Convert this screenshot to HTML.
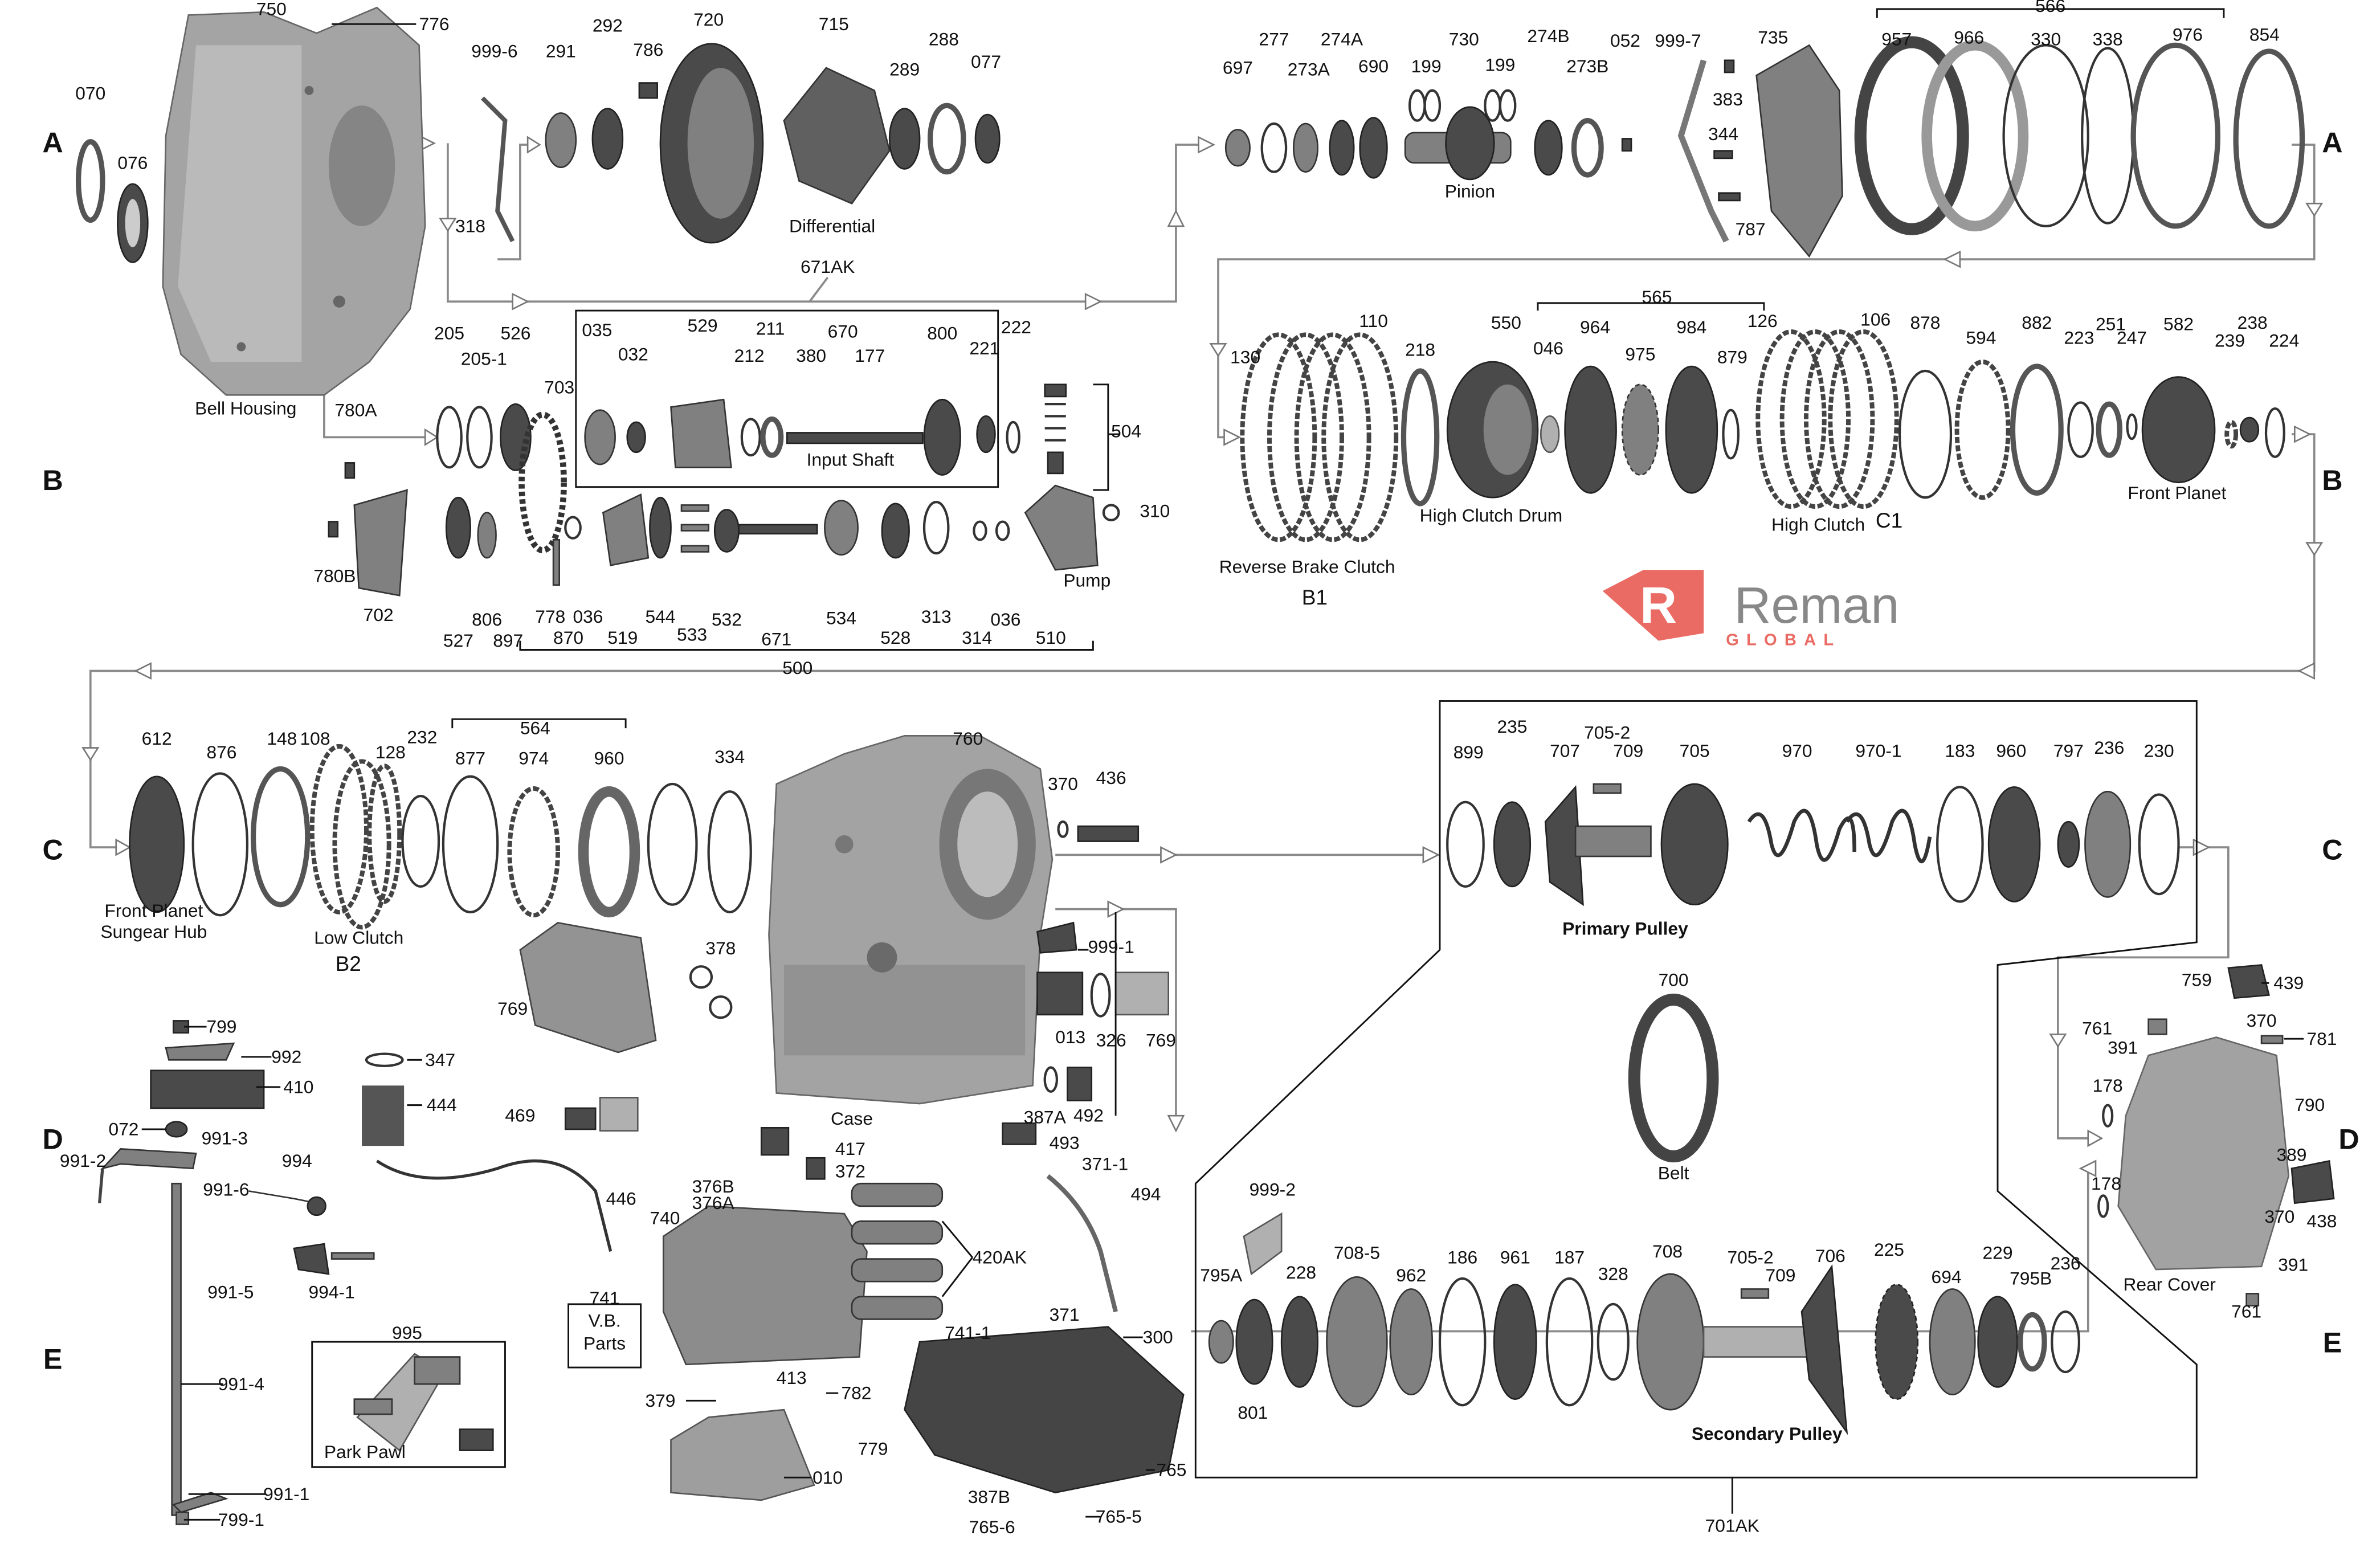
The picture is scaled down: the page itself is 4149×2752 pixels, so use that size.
<!DOCTYPE html>
<html><head><meta charset="utf-8"><style>
html,body{margin:0;padding:0;background:#fff;}
svg{display:block;}
text{font-family:"Liberation Sans",Arial,sans-serif;font-size:12px;fill:#111;text-anchor:middle;}
.big{font-size:19px;font-weight:bold;}
.b{font-weight:bold;}
.r{fill:none;stroke:#333;stroke-width:1.6;}
.rt{fill:none;stroke:#555;stroke-width:3.5;}
.g{fill:#4a4a4a;stroke:#222;stroke-width:1;}
.gm{fill:#808080;stroke:#333;stroke-width:1;}
.gl{fill:#b0b0b0;stroke:#555;stroke-width:1;}
.h{fill:#fff;stroke:#333;stroke-width:1;}
.c{fill:none;stroke:#8a8a8a;stroke-width:1.4;}
.k{fill:none;stroke:#111;stroke-width:1.1;}
.a{fill:#fff;stroke:#777;stroke-width:1;}
</style></head><body>
<svg width="4149" height="2752" viewBox="0 0 1568 1040" preserveAspectRatio="none" xmlns="http://www.w3.org/2000/svg">
<rect width="1568" height="1040" fill="#fff"/>

<g><text x="35" y="101" class="big">A</text><text x="35" y="325" class="big">B</text><text x="35" y="570" class="big">C</text><text x="35" y="762" class="big">D</text><text x="35" y="908" class="big">E</text>
<text x="1547" y="101" class="big">A</text><text x="1547" y="325" class="big">B</text><text x="1547" y="570" class="big">C</text><text x="1558" y="762" class="big">D</text><text x="1547" y="897" class="big">E</text></g>

<!-- connectors -->
<polyline class="c" points="215,95 283,95"/><polygon class="a" points="278,90 288,95 278,100"/>
<polyline class="c" points="297,95 297,200 780,200 780,96 800,96"/><polygon class="a" points="795,91 805,96 795,101"/>
<polygon class="a" points="292,145 297,153 302,145"/><polygon class="a" points="340,195 350,200 340,205"/><polygon class="a" points="720,195 730,200 720,205"/><polygon class="a" points="775,150 780,140 785,150"/>
<polyline class="c" points="330,172 345,172 345,96 355,96"/><polygon class="a" points="350,91 358,96 350,101"/>
<line class="c" x1="549" y1="184" x2="537" y2="200"/>
<polyline class="c" points="1520,96 1535,96 1535,172 808,172 808,290 820,290"/><polygon class="a" points="1530,135 1535,143 1540,135"/><polygon class="a" points="1300,167 1290,172 1300,177"/><polygon class="a" points="803,228 808,236 813,228"/><polygon class="a" points="812,285 822,290 812,295"/>
<polyline class="c" points="215,230 215,290 290,290"/><polygon class="a" points="210,236 215,244 220,236"/><polygon class="a" points="282,285 290,290 282,295"/>
<polyline class="c" points="1520,288 1535,288 1535,445 60,445 60,562 85,562"/><polygon class="a" points="1522,283 1532,288 1522,293"/><polygon class="a" points="1530,360 1535,368 1540,360"/><polygon class="a" points="1535,440 1525,445 1535,450"/><polygon class="a" points="100,440 90,445 100,450"/><polygon class="a" points="55,496 60,504 65,496"/><polygon class="a" points="77,557 86,562 77,567"/>
<polyline class="c" points="700,567 950,567"/><polygon class="a" points="944,562 954,567 944,572"/><polygon class="a" points="770,562 780,567 770,572"/>
<polyline class="c" points="700,603 780,603 780,745"/><polygon class="a" points="735,598 745,603 735,608"/><polygon class="a" points="775,740 780,750 785,740"/>
<polyline class="c" points="1445,562 1478,562 1478,635 1365,635 1365,755 1392,755"/><polygon class="a" points="1455,557 1465,562 1455,567"/><polygon class="a" points="1360,686 1365,694 1370,686"/><polygon class="a" points="1385,750 1394,755 1385,760"/>
<polyline class="c" points="1380,775 1385,775 1385,883 790,883"/><polygon class="a" points="1380,775 1390,770 1390,780"/>

<!-- outline boxes -->
<rect x="382" y="206" width="280" height="117" class="k"/>
<polyline class="k" points="955,630 955,465 1457,465 1457,625 1325,640 1325,790 1457,905 1457,980 793,980 793,785 955,630"/>
<path class="k" d="M300,483 v-6 h115 v6"/>
<path class="k" d="M1245,12 v-6 h230 v6"/>
<path class="k" d="M1020,206 v-5 h150 v5"/>
<path class="k" d="M345,425 v6 h380 v-6"/>
<path class="k" d="M725,255 h10 v70 h-10 M735,288 h8"/>
<rect x="377" y="865" width="48" height="42" class="k"/>
<rect x="207" y="890" width="128" height="83" class="k"/>
<line class="k" x1="1149" y1="980" x2="1149" y2="1004"/>

<!-- Bell housing -->
<path fill="#a4a4a4" stroke="#666" d="M125,10 L175,8 L210,22 L250,5 L278,30 L282,150 L272,205 L245,240 L215,262 L150,262 L120,235 L108,190 L110,90 Z"/>
<path fill="#c9c9c9" d="M130,30 L200,30 L200,240 L140,240 L118,190 Z" opacity=".6"/>
<ellipse cx="240" cy="110" rx="22" ry="40" fill="#858585"/>
<circle cx="205" cy="60" r="3" fill="#666"/><circle cx="225" cy="200" r="4" fill="#666"/><circle cx="160" cy="230" r="3" fill="#666"/>
<!-- Case -->
<path fill="#a3a3a3" stroke="#666" d="M515,520 L560,500 L600,488 L650,488 L690,510 L698,570 L690,620 L685,720 L610,732 L515,725 L510,620 Z"/>
<ellipse cx="655" cy="560" rx="32" ry="50" fill="#777"/><ellipse cx="655" cy="560" rx="20" ry="35" fill="#bcbcbc"/>
<rect x="520" y="640" width="160" height="60" fill="#929292"/>
<circle cx="585" cy="635" r="10" fill="#6a6a6a"/><circle cx="560" cy="560" r="6" fill="#777"/>
<!-- Rear cover -->
<path fill="#a2a2a2" stroke="#666" d="M1425,700 L1470,688 L1510,700 L1518,780 L1500,840 L1430,842 L1405,800 L1410,740 Z"/>
<!-- valve body -->
<path fill="#8c8c8c" stroke="#444" d="M440,820 L470,800 L560,805 L575,830 L570,900 L455,905 L440,870 Z"/>
<rect x="565" y="785" width="60" height="15" rx="6" class="gm"/><rect x="565" y="810" width="60" height="15" rx="6" class="gm"/><rect x="565" y="835" width="60" height="15" rx="6" class="gm"/><rect x="565" y="860" width="60" height="15" rx="6" class="gm"/>
<rect x="505" y="748" width="18" height="18" class="g"/><rect x="535" y="768" width="12" height="14" class="g"/>
<!-- pan -->
<path fill="#454545" stroke="#222" d="M610,890 L735,880 L785,925 L775,975 L700,990 L620,965 L600,935 Z"/>
<path fill="#9e9e9e" stroke="#555" d="M445,955 L470,940 L520,935 L540,985 L505,995 L445,990 Z"/>
<!-- filter 769 -->
<path fill="#939393" stroke="#444" d="M345,630 L370,612 L425,622 L435,690 L410,698 L355,680 Z"/>
<!-- shaft 991-4 -->
<rect x="114" y="785" width="6" height="220" class="gm"/>
<rect x="100" y="710" width="75" height="25" class="g"/>
<rect x="115" y="677" width="10" height="8" class="g"/><path class="gm" d="M110,695 L155,692 L150,703 L112,703 Z"/>
<ellipse cx="117" cy="749" rx="7" ry="5" class="g"/>
<path class="gm" d="M68,775 L80,762 L130,765 L128,775 L80,772 Z"/><line x1="68" y1="775" x2="66" y2="798" stroke="#444" stroke-width="2"/>
<path class="gm" d="M165,790 L195,795 L210,798" stroke="#444" stroke-width="3"/><circle cx="210" cy="800" r="6" class="g"/>
<path class="g" d="M195,828 L215,825 L218,845 L198,842 Z"/><rect x="220" y="831" width="28" height="4" class="gm"/>
<path class="gm" d="M115,998 L140,990 L150,994 L120,1003 Z"/>
<rect x="117" y="1003" width="8" height="8" class="gm"/>
<path class="gl" d="M237,940 L275,898 L295,910 L265,962 Z"/>
<rect x="275" y="900" width="30" height="18" class="gm"/><rect x="305" y="948" width="22" height="14" class="g"/><rect x="235" y="928" width="25" height="10" class="gm"/>
<path fill="#555" d="M240,720 h28 v40 h-28 z"/><ellipse cx="255" cy="703" rx="12" ry="4" class="r"/>
<path class="c" style="stroke:#333;stroke-width:2" d="M250,770 Q280,790 330,775 Q370,760 395,790 L405,830"/>
<rect x="375" y="735" width="20" height="14" class="g"/><rect x="398" y="728" width="25" height="22" class="gl"/>
<path class="c" style="stroke:#666;stroke-width:3" d="M695,780 Q720,800 730,830 L740,870"/>
<rect x="665" y="745" width="22" height="14" class="g"/>

<!-- Row A parts -->
<ellipse cx="60" cy="120" rx="8" ry="26" class="rt"/>
<ellipse cx="88" cy="148" rx="10" ry="26" class="g"/><ellipse cx="88" cy="148" rx="5" ry="16" fill="#ccc"/>
<ellipse cx="372" cy="93" rx="10" ry="18" class="gm"/><ellipse cx="403" cy="92" rx="10" ry="20" class="g"/>
<rect x="424" y="55" width="12" height="10" class="g"/>
<ellipse cx="472" cy="95" rx="34" ry="66" class="g"/><ellipse cx="478" cy="95" rx="22" ry="50" fill="#808080"/>
<path fill="#606060" stroke="#333" d="M520,80 L548,45 L580,60 L590,100 L565,135 L530,120 Z"/>
<ellipse cx="600" cy="92" rx="10" ry="20" class="g"/><ellipse cx="628" cy="92" rx="11" ry="22" class="rt"/><ellipse cx="655" cy="92" rx="8" ry="16" class="g"/>
<path class="c" style="stroke:#555;stroke-width:3" d="M320,65 L335,80 L330,140 L340,160"/>
<ellipse cx="821" cy="98" rx="8" ry="12" class="gm"/><ellipse cx="845" cy="98" rx="8" ry="16" class="r"/><ellipse cx="866" cy="98" rx="8" ry="16" class="gm"/><ellipse cx="890" cy="98" rx="8" ry="18" class="g"/><ellipse cx="911" cy="98" rx="9" ry="20" class="g"/>
<ellipse cx="940" cy="70" rx="5" ry="10" class="r"/><ellipse cx="950" cy="70" rx="5" ry="10" class="r"/><ellipse cx="990" cy="70" rx="5" ry="10" class="r"/><ellipse cx="1000" cy="70" rx="5" ry="10" class="r"/>
<rect x="932" y="88" width="70" height="20" rx="6" class="gm"/><ellipse cx="975" cy="95" rx="16" ry="24" class="g"/>
<ellipse cx="1027" cy="98" rx="9" ry="18" class="g"/><ellipse cx="1053" cy="98" rx="9" ry="18" class="rt"/><rect x="1076" y="92" width="6" height="8" class="g"/>
<path class="c" style="stroke:#777;stroke-width:4" d="M1130,40 L1115,90 L1135,140 L1145,160"/>
<rect x="1144" y="40" width="6" height="8" class="g"/><rect x="1137" y="100" width="12" height="5" class="g"/><rect x="1140" y="128" width="14" height="5" class="g"/>
<path class="gm" d="M1165,50 L1200,30 L1220,60 L1222,130 L1200,170 L1175,140 Z"/>
<ellipse cx="1268" cy="90" rx="34" ry="62" class="rt" style="stroke:#444;stroke-width:8"/>
<ellipse cx="1310" cy="90" rx="32" ry="60" class="rt" style="stroke:#999;stroke-width:7"/>
<ellipse cx="1357" cy="90" rx="28" ry="60" class="r"/><ellipse cx="1398" cy="90" rx="17" ry="58" class="r"/><ellipse cx="1443" cy="90" rx="28" ry="60" class="rt"/><ellipse cx="1505" cy="92" rx="22" ry="58" class="rt"/>

<!-- Row B parts -->
<ellipse cx="298" cy="290" rx="8" ry="20" class="r"/><ellipse cx="318" cy="290" rx="8" ry="20" class="r"/><ellipse cx="342" cy="290" rx="10" ry="22" class="g"/>
<ellipse cx="360" cy="320" rx="14" ry="45" class="r" style="stroke-dasharray:3 2;stroke-width:4"/>
<ellipse cx="398" cy="290" rx="10" ry="18" class="gm"/><ellipse cx="422" cy="290" rx="6" ry="10" class="g"/>
<path class="gm" d="M445,270 L480,265 L485,310 L448,310 Z"/><ellipse cx="498" cy="290" rx="6" ry="12" class="r"/><ellipse cx="512" cy="290" rx="6" ry="12" class="rt"/>
<rect x="522" y="287" width="90" height="7" class="g"/><ellipse cx="625" cy="290" rx="12" ry="25" class="g"/><ellipse cx="654" cy="288" rx="6" ry="12" class="g"/><ellipse cx="672" cy="290" rx="4" ry="10" class="r"/>
<rect x="693" y="255" width="14" height="8" class="g"/><path class="r" d="M693,268 h14 M693,276 h14 M693,284 h14 M693,292 h14"/><rect x="695" y="300" width="10" height="14" class="g"/>
<path class="gm" d="M680,340 L700,322 L725,330 L728,375 L700,378 Z"/>
<ellipse cx="737" cy="340" rx="5" ry="5" class="r"/>
<path class="gm" d="M235,335 L270,325 L265,395 L238,390 Z"/>
<rect x="229" y="307" width="6" height="10" class="g"/><rect x="218" y="346" width="6" height="10" class="g"/>
<ellipse cx="304" cy="350" rx="8" ry="20" class="g"/><ellipse cx="323" cy="355" rx="6" ry="15" class="gm"/>
<ellipse cx="380" cy="350" rx="5" ry="7" class="r"/><rect x="367" y="358" width="4" height="30" class="gm"/>
<path class="gm" d="M400,340 L425,328 L430,370 L405,375 Z"/><ellipse cx="438" cy="350" rx="7" ry="20" class="g"/><ellipse cx="482" cy="352" rx="8" ry="14" class="g"/><rect x="490" y="348" width="52" height="6" class="g"/>
<rect x="452" y="335" width="18" height="4" class="gm"/><rect x="452" y="348" width="18" height="4" class="gm"/><rect x="452" y="362" width="18" height="4" class="gm"/>
<ellipse cx="558" cy="350" rx="11" ry="18" class="gm"/><ellipse cx="594" cy="352" rx="9" ry="18" class="g"/><ellipse cx="621" cy="350" rx="8" ry="17" class="r"/>
<ellipse cx="650" cy="352" rx="4" ry="6" class="r"/><ellipse cx="665" cy="352" rx="4" ry="6" class="r"/>
<g class="r" style="stroke:#444;stroke-width:3;stroke-dasharray:4 1.5">
<ellipse cx="848" cy="290" rx="24" ry="68"/><ellipse cx="866" cy="290" rx="24" ry="68"/><ellipse cx="884" cy="290" rx="24" ry="68"/><ellipse cx="902" cy="290" rx="24" ry="68"/>
<ellipse cx="1188" cy="278" rx="22" ry="58"/><ellipse cx="1204" cy="278" rx="22" ry="58"/><ellipse cx="1220" cy="278" rx="22" ry="58"/><ellipse cx="1236" cy="278" rx="22" ry="58"/>
<ellipse cx="1315" cy="285" rx="17" ry="45"/><ellipse cx="1480" cy="288" rx="3" ry="8"/></g>
<ellipse cx="942" cy="290" rx="11" ry="44" class="rt"/>
<ellipse cx="990" cy="285" rx="30" ry="45" class="g"/><ellipse cx="1000" cy="285" rx="16" ry="30" fill="#808080"/>
<ellipse cx="1028" cy="288" rx="6" ry="12" class="gl"/><ellipse cx="1055" cy="285" rx="17" ry="42" class="g"/><ellipse cx="1088" cy="285" rx="12" ry="30" class="gm" style="stroke-dasharray:3 2"/><ellipse cx="1122" cy="285" rx="17" ry="42" class="g"/><ellipse cx="1148" cy="288" rx="5" ry="16" class="r"/>
<ellipse cx="1277" cy="288" rx="17" ry="42" class="r"/><ellipse cx="1351" cy="285" rx="16" ry="42" class="rt"/><ellipse cx="1380" cy="285" rx="8" ry="18" class="r"/><ellipse cx="1399" cy="285" rx="7" ry="17" class="rt"/><ellipse cx="1414" cy="283" rx="3" ry="8" class="r"/>
<ellipse cx="1445" cy="285" rx="24" ry="35" class="g"/><ellipse cx="1492" cy="285" rx="6" ry="8" class="g"/><ellipse cx="1509" cy="287" rx="6" ry="16" class="r"/>
<!-- Logo -->
<path fill="#e96b64" d="M1063,392 L1090,378 L1130,378 L1130,420 L1100,425 Z"/>
<text x="1100" y="413" style="font-size:34px;fill:#fff;font-weight:bold">R</text>
<text x="1205" y="413" style="font-size:34px;fill:#888">Reman</text>
<text x="1183" y="428" style="font-size:11px;fill:#e96b64;font-weight:bold;letter-spacing:5px">GLOBAL</text>

<!-- Row C parts -->
<ellipse cx="104" cy="560" rx="18" ry="45" class="g"/><ellipse cx="146" cy="560" rx="18" ry="47" class="r"/><ellipse cx="186" cy="555" rx="18" ry="45" class="rt"/>
<g class="r" style="stroke:#444;stroke-width:3;stroke-dasharray:4 1.5"><ellipse cx="225" cy="550" rx="18" ry="55"/><ellipse cx="240" cy="560" rx="18" ry="55"/><ellipse cx="255" cy="553" rx="10" ry="45"/><ellipse cx="354" cy="565" rx="16" ry="42"/></g>
<ellipse cx="279" cy="558" rx="12" ry="30" class="r"/><ellipse cx="312" cy="560" rx="18" ry="45" class="r"/><ellipse cx="404" cy="565" rx="17" ry="40" class="rt" style="stroke:#666;stroke-width:7"/><ellipse cx="446" cy="560" rx="16" ry="40" class="r"/><ellipse cx="484" cy="565" rx="14" ry="40" class="r"/>
<ellipse cx="972" cy="560" rx="12" ry="28" class="r"/><ellipse cx="1003" cy="560" rx="12" ry="28" class="g"/>
<path class="g" d="M1025,545 L1045,522 L1050,600 L1028,585 Z"/><rect x="1045" y="548" width="50" height="20" class="gm"/>
<rect x="1057" y="520" width="18" height="6" class="gm"/>
<ellipse cx="1124" cy="560" rx="22" ry="40" class="g"/>
<path class="r" style="stroke-width:2.5" d="M1160,545 q10,-15 15,15 q5,20 15,-15 q10,-20 15,15 q5,25 15,-10 q10,-20 10,15"/>
<path class="r" style="stroke-width:2.5" d="M1225,545 q10,-15 15,15 q5,20 15,-15 q10,-20 15,15 q5,25 10,-5"/>
<ellipse cx="1300" cy="560" rx="15" ry="38" class="r"/><ellipse cx="1336" cy="560" rx="17" ry="38" class="g"/><ellipse cx="1372" cy="560" rx="7" ry="15" class="g"/><ellipse cx="1398" cy="560" rx="15" ry="35" class="gm"/><ellipse cx="1432" cy="560" rx="13" ry="33" class="r"/>
<ellipse cx="1110" cy="715" rx="26" ry="52" class="rt" style="stroke:#444;stroke-width:8"/>
<ellipse cx="465" cy="648" rx="7" ry="7" class="r"/><ellipse cx="478" cy="668" rx="7" ry="7" class="r"/>
<rect x="688" y="645" width="30" height="28" class="g"/><rect x="740" y="645" width="35" height="28" class="gl"/>
<ellipse cx="730" cy="660" rx="6" ry="14" class="r"/>
<rect x="715" y="548" width="40" height="10" class="g"/><ellipse cx="705" cy="550" rx="3" ry="5" class="r"/>
<path class="g" d="M688,618 L712,612 L714,630 L690,632 Z"/>
<ellipse cx="697" cy="716" rx="4" ry="8" class="r"/><path class="g" d="M708,708 h16 v22 h-16 z"/>
<!-- Rear cover small parts -->
<path class="g" d="M1478,642 L1500,640 L1505,660 L1482,662 Z"/><rect x="1425" y="676" width="12" height="10" class="gm"/>
<rect x="1500" y="687" width="14" height="5" class="gm"/><path class="g" d="M1520,775 L1545,770 L1548,795 L1522,798 Z"/>
<rect x="1490" y="858" width="8" height="8" class="gm"/><ellipse cx="1398" cy="740" rx="3" ry="7" class="r"/><ellipse cx="1395" cy="800" rx="3" ry="7" class="r"/>

<!-- Row E parts -->
<ellipse cx="810" cy="890" rx="8" ry="14" class="gm"/><ellipse cx="832" cy="890" rx="12" ry="28" class="g"/><ellipse cx="862" cy="890" rx="12" ry="30" class="g"/>
<path class="gl" d="M825,820 L850,805 L850,830 L830,845 Z"/>
<ellipse cx="900" cy="890" rx="20" ry="43" class="gm"/><ellipse cx="936" cy="890" rx="14" ry="35" class="gm"/><ellipse cx="970" cy="890" rx="15" ry="42" class="r"/><ellipse cx="1005" cy="890" rx="14" ry="38" class="g"/><ellipse cx="1041" cy="890" rx="15" ry="42" class="r"/><ellipse cx="1070" cy="890" rx="10" ry="25" class="r"/>
<ellipse cx="1108" cy="890" rx="22" ry="45" class="gm"/>
<rect x="1130" y="880" width="70" height="20" class="gl"/><path class="g" d="M1195,870 L1215,840 L1225,950 L1200,915 Z"/>
<rect x="1155" y="855" width="18" height="6" class="gm"/>
<ellipse cx="1258" cy="890" rx="14" ry="38" class="g" style="stroke-dasharray:3 2"/><ellipse cx="1295" cy="890" rx="15" ry="35" class="gm"/><ellipse cx="1325" cy="890" rx="13" ry="30" class="g"/><ellipse cx="1348" cy="890" rx="8" ry="18" class="rt"/><ellipse cx="1370" cy="890" rx="9" ry="20" class="r"/>

<!-- labels -->
<g>
<text x="180" y="10">750</text><text x="288" y="20">776</text><text x="60" y="66">070</text><text x="88" y="112">076</text><text x="328" y="38">999-6</text><text x="372" y="38">291</text><text x="403" y="21">292</text><text x="430" y="37">786</text><text x="470" y="17">720</text><text x="553" y="20">715</text><text x="626" y="30">288</text><text x="600" y="50">289</text><text x="654" y="45">077</text><text x="312" y="154">318</text><text x="552" y="154">Differential</text><text x="163" y="275">Bell Housing</text><text x="549" y="181">671AK</text>
<text x="845" y="30">277</text><text x="821" y="49">697</text><text x="868" y="50">273A</text><text x="890" y="30">274A</text><text x="911" y="48">690</text><text x="946" y="48">199</text><text x="971" y="30">730</text><text x="995" y="47">199</text><text x="1027" y="28">274B</text><text x="1053" y="48">273B</text><text x="1078" y="31">052</text><text x="1113" y="31">999-7</text><text x="1176" y="29">735</text><text x="1146" y="70">383</text><text x="1143" y="93">344</text><text x="1161" y="156">787</text><text x="975" y="131">Pinion</text><text x="1360" y="8">566</text><text x="1258" y="30">957</text><text x="1306" y="29">966</text><text x="1357" y="30">330</text><text x="1398" y="30">338</text><text x="1451" y="27">976</text><text x="1502" y="27">854</text>
<text x="298" y="225">205</text><text x="321" y="242">205-1</text><text x="342" y="225">526</text><text x="236" y="276">780A</text><text x="371" y="261">703</text><text x="396" y="223">035</text><text x="420" y="239">032</text><text x="466" y="220">529</text><text x="511" y="222">211</text><text x="497" y="240">212</text><text x="538" y="240">380</text><text x="577" y="240">177</text><text x="559" y="224">670</text><text x="625" y="225">800</text><text x="653" y="235">221</text><text x="674" y="221">222</text><text x="747" y="290">504</text><text x="564" y="309">Input Shaft</text><text x="766" y="343">310</text><text x="721" y="389">Pump</text><text x="222" y="386">780B</text><text x="251" y="412">702</text><text x="304" y="429">527</text><text x="323" y="415">806</text><text x="337" y="429">897</text><text x="365" y="413">778</text><text x="390" y="413">036</text><text x="377" y="427">870</text><text x="413" y="427">519</text><text x="438" y="413">544</text><text x="459" y="425">533</text><text x="482" y="415">532</text><text x="515" y="428">671</text><text x="558" y="414">534</text><text x="594" y="427">528</text><text x="621" y="413">313</text><text x="648" y="427">314</text><text x="667" y="415">036</text><text x="697" y="427">510</text><text x="529" y="447">500</text>
<text x="911" y="217">110</text><text x="826" y="241">130</text><text x="942" y="236">218</text><text x="999" y="218">550</text><text x="1027" y="235">046</text><text x="1099" y="201">565</text><text x="1058" y="221">964</text><text x="1088" y="239">975</text><text x="1122" y="221">984</text><text x="1149" y="241">879</text><text x="1169" y="217">126</text><text x="1244" y="216">106</text><text x="1277" y="218">878</text><text x="1314" y="228">594</text><text x="1351" y="218">882</text><text x="1379" y="228">223</text><text x="1400" y="219">251</text><text x="1414" y="228">247</text><text x="1445" y="219">582</text><text x="1494" y="218">238</text><text x="1479" y="230">239</text><text x="1515" y="230">224</text><text x="867" y="380">Reverse Brake Clutch</text><text x="872" y="401" style="font-size:14px">B1</text><text x="989" y="346">High Clutch Drum</text><text x="1206" y="352">High Clutch</text><text x="1253" y="350" style="font-size:14px">C1</text><text x="1444" y="331">Front Planet</text>
<text x="104" y="494">612</text><text x="147" y="503">876</text><text x="187" y="494">148</text><text x="209" y="494">108</text><text x="259" y="503">128</text><text x="280" y="493">232</text><text x="355" y="487">564</text><text x="312" y="507">877</text><text x="354" y="507">974</text><text x="404" y="507">960</text><text x="484" y="506">334</text><text x="102" y="608">Front Planet</text><text x="102" y="622">Sungear Hub</text><text x="238" y="626">Low Clutch</text><text x="231" y="644" style="font-size:14px">B2</text><text x="642" y="494">760</text><text x="705" y="524">370</text><text x="737" y="520">436</text><text x="340" y="673">769</text><text x="478" y="633">378</text><text x="737" y="632">999-1</text><text x="710" y="692">013</text><text x="737" y="694">326</text><text x="770" y="694">769</text><text x="693" y="745">387A</text><text x="722" y="744">492</text><text x="565" y="746">Case</text>
<text x="974" y="503">899</text><text x="1003" y="486">235</text><text x="1066" y="490">705-2</text><text x="1038" y="502">707</text><text x="1080" y="502">709</text><text x="1124" y="502">705</text><text x="1192" y="502">970</text><text x="1246" y="502">970-1</text><text x="1300" y="502">183</text><text x="1334" y="502">960</text><text x="1372" y="502">797</text><text x="1399" y="500">236</text><text x="1432" y="502">230</text><text x="1078" y="620" class="b">Primary Pulley</text><text x="1110" y="654">700</text><text x="1110" y="782">Belt</text>
<text x="1457" y="654">759</text><text x="1518" y="656">439</text><text x="1500" y="681">370</text><text x="1391" y="686">761</text><text x="1408" y="699">391</text><text x="1540" y="693">781</text><text x="1398" y="724">178</text><text x="1532" y="737">790</text><text x="1520" y="770">389</text><text x="1397" y="789">178</text><text x="1540" y="814">438</text><text x="1512" y="811">370</text><text x="1521" y="843">391</text><text x="1439" y="856">Rear Cover</text><text x="1490" y="874">761</text>
<text x="147" y="685">799</text><text x="190" y="705">992</text><text x="198" y="725">410</text><text x="82" y="753">072</text><text x="149" y="759">991-3</text><text x="55" y="774">991-2</text><text x="197" y="774">994</text><text x="150" y="793">991-6</text><text x="153" y="861">991-5</text><text x="220" y="861">994-1</text><text x="270" y="888">995</text><text x="242" y="967">Park Pawl</text><text x="160" y="922">991-4</text><text x="190" y="995">991-1</text><text x="160" y="1012">799-1</text>
<text x="292" y="707">347</text><text x="293" y="737">444</text><text x="345" y="744">469</text><text x="412" y="799">446</text><text x="401" y="865">741</text><text x="401" y="880">V.B.</text><text x="401" y="895">Parts</text><text x="441" y="812">740</text><text x="473" y="791">376B</text><text x="473" y="802">376A</text><text x="564" y="766">417</text><text x="564" y="781">372</text><text x="663" y="838">420AK</text><text x="706" y="762">493</text><text x="733" y="776">371-1</text><text x="760" y="796">494</text><text x="706" y="876">371</text><text x="768" y="891">300</text><text x="642" y="888">741-1</text><text x="525" y="918">413</text><text x="568" y="928">782</text><text x="438" y="933">379</text><text x="549" y="984">010</text><text x="579" y="965">779</text><text x="777" y="979">765</text><text x="656" y="997">387B</text><text x="742" y="1010">765-5</text><text x="658" y="1017">765-6</text>
<text x="844" y="793">999-2</text><text x="810" y="850">795A</text><text x="863" y="848">228</text><text x="900" y="835">708-5</text><text x="970" y="838">186</text><text x="936" y="850">962</text><text x="1005" y="838">961</text><text x="1041" y="838">187</text><text x="1070" y="849">328</text><text x="1106" y="834">708</text><text x="1161" y="838">705-2</text><text x="1181" y="850">709</text><text x="1214" y="837">706</text><text x="1253" y="833">225</text><text x="1291" y="851">694</text><text x="1325" y="835">229</text><text x="1370" y="842">236</text><text x="1347" y="852">795B</text><text x="831" y="941">801</text><text x="1172" y="955" class="b">Secondary Pulley</text><text x="1149" y="1016">701AK</text>
</g>
<g class="k">
<line x1="220" y1="16" x2="276" y2="16"/><line x1="122" y1="681" x2="137" y2="681"/><line x1="160" y1="701" x2="180" y2="701"/><line x1="170" y1="721" x2="186" y2="721"/><line x1="94" y1="749" x2="110" y2="749"/><line x1="120" y1="918" x2="148" y2="918"/><line x1="125" y1="991" x2="176" y2="991"/><line x1="122" y1="1008" x2="146" y2="1008"/><line x1="270" y1="703" x2="280" y2="703"/><line x1="270" y1="733" x2="280" y2="733"/><line x1="625" y1="810" x2="645" y2="834"/><line x1="625" y1="860" x2="645" y2="834"/><line x1="745" y1="887" x2="758" y2="887"/><line x1="520" y1="980" x2="538" y2="980"/><line x1="760" y1="975" x2="766" y2="975"/><line x1="740" y1="605" x2="740" y2="740"/><line x1="455" y1="929" x2="475" y2="929"/><line x1="548" y1="924" x2="556" y2="924"/><line x1="720" y1="1006" x2="730" y2="1006"/><line x1="715" y1="630" x2="722" y2="630"/><line x1="1500" y1="652" x2="1505" y2="652"/><line x1="1515" y1="689" x2="1528" y2="689"/></g>
</svg>
</body></html>
